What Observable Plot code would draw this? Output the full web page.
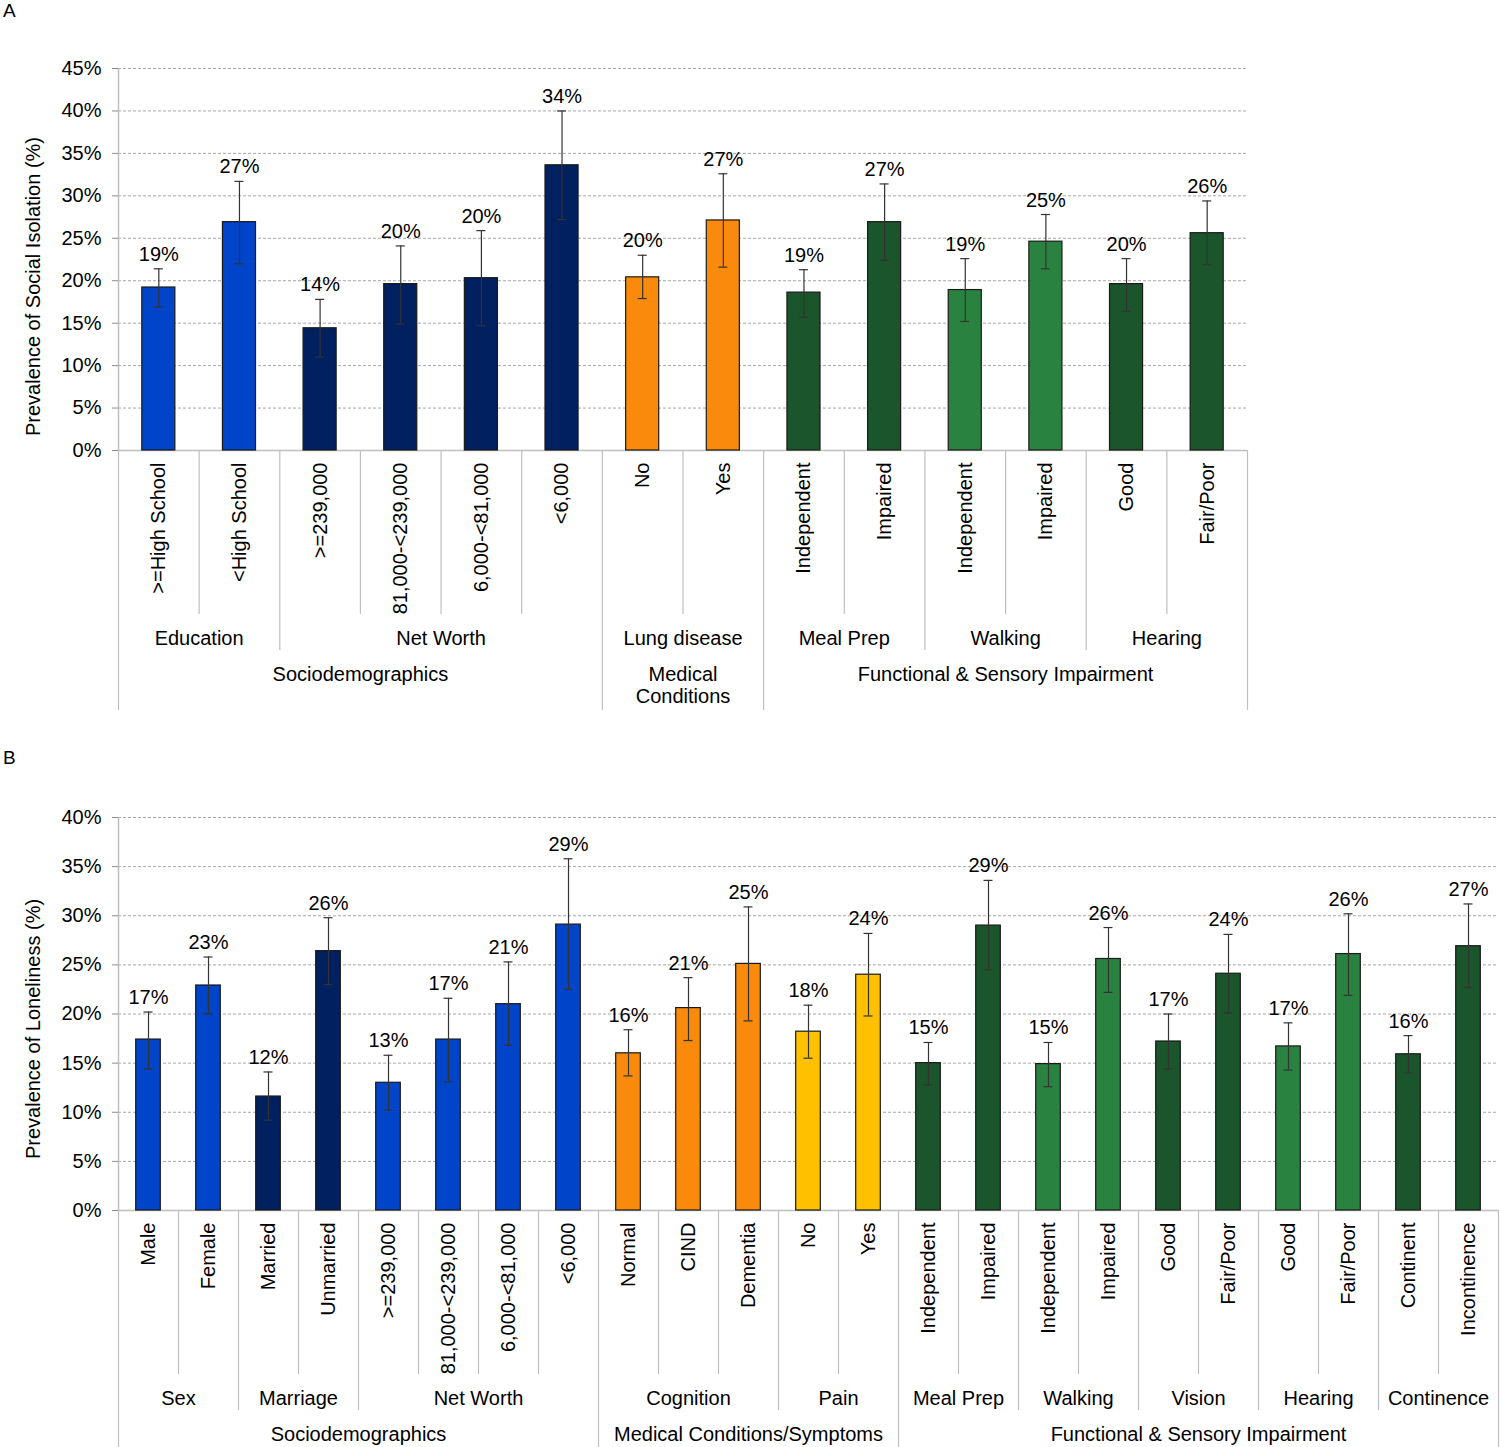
<!DOCTYPE html>
<html><head><meta charset="utf-8">
<script src="https://cdn.jsdelivr.net/npm/d3@7"></script>
<script src="https://cdn.jsdelivr.net/npm/@observablehq/plot@0.6"></script>
<style>
body{margin:0;background:#fff;font-family:"Liberation Sans",Arial,sans-serif;}
#wrap{position:relative;width:1500px;height:1447px;overflow:hidden;}
#wrap svg{position:absolute;left:0;}
.tag{position:absolute;left:3px;font-size:19px;line-height:20px;color:#000;}
</style></head><body>
<div id="wrap"><div class="tag" style="top:1px">A</div><div class="tag" style="top:748px">B</div></div>
<script>
// ---------- Panel A: Social isolation ----------
const catsA = [">=High School", "<High School", ">=239,000", "81,000-<239,000", "6,000-<81,000", "<6,000",
  "No", "Yes", "Independent", "Impaired", "Independent", "Impaired", "Good", "Fair/Poor"];
const subA = ["Education", "Education", "Net Worth", "Net Worth", "Net Worth", "Net Worth",
  "Lung disease", "Lung disease", "Meal Prep", "Meal Prep", "Walking", "Walking", "Hearing", "Hearing"];
const grpA = ["Sociodemographics", "Sociodemographics", "Sociodemographics", "Sociodemographics", "Sociodemographics", "Sociodemographics",
  "Medical\nConditions", "Medical\nConditions",
  "Functional & Sensory Impairment", "Functional & Sensory Impairment", "Functional & Sensory Impairment",
  "Functional & Sensory Impairment", "Functional & Sensory Impairment", "Functional & Sensory Impairment"];
const valA = [19.2, 26.9, 14.4, 19.6, 20.3, 33.6, 20.4, 27.1, 18.6, 26.9, 18.9, 24.6, 19.6, 25.6];
const lowA = [16.9, 22.0, 11.0, 14.9, 14.7, 27.2, 17.9, 21.6, 15.7, 22.4, 15.2, 21.4, 16.4, 21.9];
const highA = [21.4, 31.7, 17.8, 24.1, 25.9, 40.0, 23.0, 32.6, 21.3, 31.4, 22.6, 27.8, 22.6, 29.4];
const colA = ["blue", "blue", "navy", "navy", "navy", "navy", "orange", "orange",
  "dkgreen", "dkgreen", "green", "green", "dkgreen", "dkgreen"];
const ticksA = [0, 5, 10, 15, 20, 25, 30, 35, 40, 45];

// ---------- Panel B: Loneliness ----------
const catsB = ["Male", "Female", "Married", "Unmarried", ">=239,000", "81,000-<239,000", "6,000-<81,000", "<6,000",
  "Normal", "CIND", "Dementia", "No", "Yes", "Independent", "Impaired", "Independent", "Impaired",
  "Good", "Fair/Poor", "Good", "Fair/Poor", "Continent", "Incontinence"];
const subB = ["Sex", "Sex", "Marriage", "Marriage", "Net Worth", "Net Worth", "Net Worth", "Net Worth",
  "Cognition", "Cognition", "Cognition", "Pain", "Pain", "Meal Prep", "Meal Prep", "Walking", "Walking",
  "Vision", "Vision", "Hearing", "Hearing", "Continence", "Continence"];
const grpB = ["Sociodemographics", "Sociodemographics", "Sociodemographics", "Sociodemographics",
  "Sociodemographics", "Sociodemographics", "Sociodemographics", "Sociodemographics",
  "Medical Conditions/Symptoms", "Medical Conditions/Symptoms", "Medical Conditions/Symptoms",
  "Medical Conditions/Symptoms", "Medical Conditions/Symptoms",
  "Functional & Sensory Impairment", "Functional & Sensory Impairment", "Functional & Sensory Impairment",
  "Functional & Sensory Impairment", "Functional & Sensory Impairment", "Functional & Sensory Impairment",
  "Functional & Sensory Impairment", "Functional & Sensory Impairment", "Functional & Sensory Impairment",
  "Functional & Sensory Impairment"];
const valB = [17.4, 22.9, 11.6, 26.4, 13.0, 17.4, 21.0, 29.1, 16.0, 20.6, 25.1, 18.2, 24.0,
  15.0, 29.0, 14.9, 25.6, 17.2, 24.1, 16.7, 26.1, 15.9, 26.9];
const lowB = [14.4, 20.0, 9.2, 23.0, 10.2, 13.1, 16.8, 22.5, 13.7, 17.3, 19.3, 15.5, 19.8,
  12.8, 24.5, 12.6, 22.2, 14.4, 20.1, 14.3, 21.9, 14.0, 22.7];
const highB = [20.2, 25.8, 14.1, 29.8, 15.8, 21.6, 25.3, 35.8, 18.4, 23.7, 30.9, 20.9, 28.2,
  17.1, 33.6, 17.1, 28.8, 20.0, 28.1, 19.1, 30.2, 17.8, 31.2];
const colB = ["blue", "blue", "navy", "navy", "blue", "blue", "blue", "blue",
  "orange", "orange", "orange", "yellow", "yellow",
  "dkgreen", "dkgreen", "green", "green", "dkgreen", "dkgreen", "green", "green", "dkgreen", "dkgreen"];
const ticksB = [0, 5, 10, 15, 20, 25, 30, 35, 40];

const palette = {blue: "#0044C9", navy: "#00205F", orange: "#F98A0B", yellow: "#FFC000",
  dkgreen: "#1B552C", green: "#2A8241"};

function makePanel(cats, subs, grps, vals, lows, highs, cols, ticks, o) {
  const n = cats.length;
  const rows = cats.map((c, i) => ({i, cat: c, sub: subs[i], grp: grps[i], v: vals[i], lo: lows[i], hi: highs[i],
    fill: palette[cols[i]], label: Math.round(vals[i]) + "%"}));
  const bounds = d3.range(n + 1).map(k => {
    let level = 2;
    if (k > 0 && k < n) {
      const a = rows[k - 1], b = rows[k];
      level = a.grp !== b.grp ? 2 : (a.sub !== b.sub ? 1 : 0);
    }
    return {k, level};
  });
  const runs = (key) => {
    const out = [];
    rows.forEach(r => {
      const last = out[out.length - 1];
      if (last && last.name === r[key] && last.grp === r.grp) last.end = r.i + 1;
      else out.push({name: r[key], grp: r.grp, start: r.i, end: r.i + 1});
    });
    return out;
  };
  const subRuns = runs("sub");
  const grpRuns = runs("grp");
  const depths = [164, 200, o.bottomDepth];
  const sepColor = "#bfbfbf";
  const fs = 20;
  const plot = Plot.plot({
    width: 1500,
    height: o.height,
    marginTop: o.marginTop,
    marginBottom: o.marginBottom,
    marginLeft: 118,
    marginRight: o.marginRight,
    x: {domain: [0, n], axis: null},
    y: {domain: [0, ticks[ticks.length - 1]], axis: null},
    color: {type: "identity"},
    style: {fontFamily: "'Liberation Sans', Arial, sans-serif", fontSize: fs + "px", color: "#000", background: "transparent", overflow: "visible"},
    marks: [
      Plot.ruleY(ticks.slice(1), {stroke: "#a6a6a6", strokeDasharray: "3,2", strokeWidth: 1}),
      Plot.ruleY([0], {stroke: sepColor, strokeWidth: 1.5}),
      Plot.ruleX([0], {stroke: sepColor, strokeWidth: 1.5}),
      ...[0, 1, 2].map(lv => Plot.ruleX(bounds.filter(b => b.level === lv),
        {x: "k", y1: 0, y2: 0, insetBottom: -depths[lv], stroke: sepColor, strokeWidth: 1.2})),
      Plot.axisY({ticks, tickFormat: d => d + "%", tickSize: 6, tickPadding: 11, stroke: "#8c8c8c", fill: "#000", label: null, fontSize: fs}),
      Plot.text([o.ylabel], {frameAnchor: "left", textAnchor: "middle", dx: -85, dy: o.ylabelDy, rotate: -90, fontSize: fs, fill: "#000"}),
      Plot.rectY(rows, {x1: d => d.i + 0.295, x2: d => d.i + 0.705, y1: 0, y2: "v", fill: "fill", stroke: "#1a1a1a", strokeWidth: 1.2}),
      Plot.ruleX(rows, {x: d => d.i + 0.5, y1: "lo", y2: "hi", stroke: "#333", strokeWidth: 1.2}),
      Plot.ruleY(rows, {y: "lo", x1: d => d.i + 0.5, x2: d => d.i + 0.5, insetLeft: -4.5, insetRight: -4.5, stroke: "#333", strokeWidth: 1.2}),
      Plot.ruleY(rows, {y: "hi", x1: d => d.i + 0.5, x2: d => d.i + 0.5, insetLeft: -4.5, insetRight: -4.5, stroke: "#333", strokeWidth: 1.2}),
      Plot.text(rows, {x: d => d.i + 0.5, y: "hi", text: "label", lineAnchor: "bottom", dy: -8, fontSize: fs, fill: "#000"}),
      Plot.text(rows, {x: d => d.i + 0.5, y: 0, text: "cat", rotate: -90, textAnchor: "end", lineAnchor: "middle", dy: 12, fontSize: fs, fill: "#000"}),
      Plot.text(subRuns, {x: d => (d.start + d.end) / 2, y: 0, text: "name", lineAnchor: "middle", dy: 188, fontSize: fs, fill: "#000"}),
      Plot.text(grpRuns, {x: d => (d.start + d.end) / 2, y: 0, text: "name", lineAnchor: "top", dy: 215, lineHeight: 1.1, fontSize: fs, fill: "#000"})
    ]
  });
  plot.style.top = o.top + "px";
  return plot;
}

const wrap = document.getElementById("wrap");
wrap.appendChild(makePanel(catsA, subA, grpA, valA, lowA, highA, colA, ticksA, {
  top: 0, height: 712, marginTop: 68, marginBottom: 262, marginRight: 253, bottomDepth: 260,
  ylabel: "Prevalence of Social Isolation (%)", ylabelDy: 27
}));
wrap.appendChild(makePanel(catsB, subB, grpB, valB, lowB, highB, colB, ticksB, {
  top: 750, height: 697, marginTop: 67, marginBottom: 237, marginRight: 2, bottomDepth: 237,
  ylabel: "Prevalence of Loneliness (%)", ylabelDy: 15
}));
</script>
</body></html>
